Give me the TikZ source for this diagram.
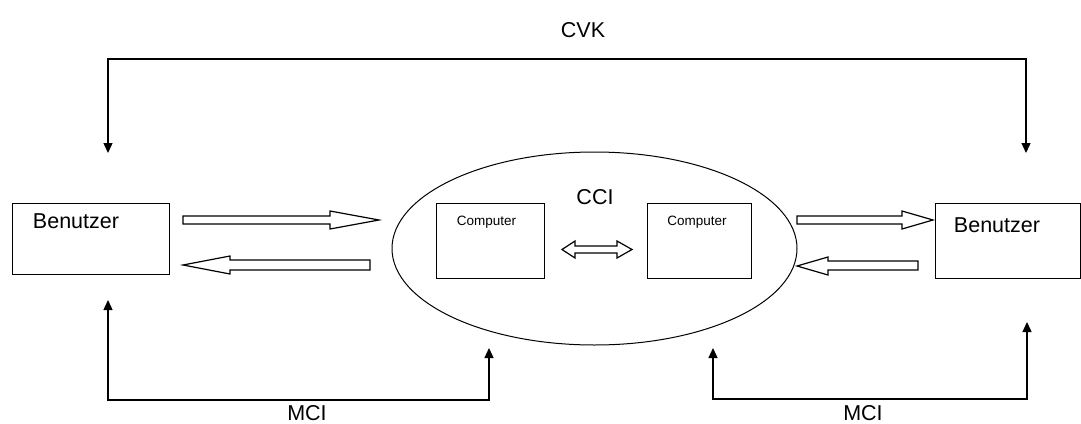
\documentclass[tikz,border=0pt]{standalone}
\usepackage{fontspec}
\setmainfont{Liberation Sans}
\usetikzlibrary{shapes.geometric,arrows.meta}
\begin{document}
\begin{tikzpicture}[x=1pt,y=-1pt,
  box/.style={draw, line width=1.3pt, inner sep=0pt, anchor=north west},
  lbl/.style={inner sep=0pt, font=\fontsize{21.5}{23}\selectfont},
  small/.style={inner sep=0pt, font=\fontsize{13.5}{15}\selectfont},
  conn/.style={line width=1.3pt, -{Triangle[length=10pt,width=9pt]}},
  hollow/.style={draw, line width=1.2pt, fill=white, line join=miter}
]
\useasboundingbox (0,0) rectangle (1081,423);
% boxes
\node[box, minimum width=157pt, minimum height=71pt] (b1) at (12,203) {};
\node[box, minimum width=145pt, minimum height=75pt] (b2) at (935,203) {};
\node[draw, ellipse, line width=1pt, inner sep=0pt, minimum width=405pt, minimum height=193pt] (ell) at (594.5,248.5) {};
\node[box, minimum width=108pt, minimum height=75pt] (c1) at (436,203) {};
\node[box, minimum width=104pt, minimum height=75pt] (c2) at (647,203) {};
% texts
\node[lbl] (t1) at (76,221) {Benutzer};
\node[lbl] (t2) at (997,225) {Benutzer};
\node[small] (tc1) at (486.5,222) {Computer};
\node[small] (tc2) at (697,222) {Computer};
\node[lbl] (cci) at (595,197) {CCI};
\node[lbl] (cvk) at (583,30) {CVK};
\node[lbl] (mci1) at (307,413) {MCI};
\node[lbl] (mci2) at (863,413) {MCI};
% CVK connector
\coordinate (cvkL) at (108,59);
\coordinate (cvkR) at (1026,59);
\coordinate (cvkLe) at (108,153);
\coordinate (cvkRe) at (1026,153);
\draw[conn] (cvkR) -- (cvkL) -- (cvkLe);
\draw[conn] (cvkL) -- (cvkR) -- (cvkRe);
% MCI left
\coordinate (m1a) at (108,400);
\coordinate (m1b) at (489,400);
\coordinate (m1ae) at (108,300);
\coordinate (m1be) at (489,348);
\draw[conn] (m1b) -- (m1a) -- (m1ae);
\draw[conn] (m1a) -- (m1b) -- (m1be);
% MCI right
\coordinate (m2a) at (713,399);
\coordinate (m2b) at (1027,399);
\coordinate (m2ae) at (713,348);
\coordinate (m2be) at (1027,322);
\draw[conn] (m2b) -- (m2a) -- (m2ae);
\draw[conn] (m2a) -- (m2b) -- (m2be);
% hollow arrows
\draw[hollow] (183,216) -- (330,216) -- (330,211) -- (379,220) -- (330,229) -- (330,224) -- (183,224) -- cycle;
\draw[hollow] (370,260) -- (230,260) -- (230,256) -- (183,265) -- (230,274) -- (230,270) -- (370,270) -- cycle;
\draw[hollow] (797,216) -- (902,216) -- (902,211) -- (933,220) -- (902,229) -- (902,224) -- (797,224) -- cycle;
\draw[hollow] (918,261) -- (828,261) -- (828,257) -- (797,266) -- (828,275) -- (828,270) -- (918,270) -- cycle;
\draw[hollow] (562,249.5) -- (575,241) -- (575,246) -- (617,246) -- (617,241) -- (632,249.5) -- (617,258) -- (617,253) -- (575,253) -- (575,258) -- cycle;
\end{tikzpicture}
\end{document}
